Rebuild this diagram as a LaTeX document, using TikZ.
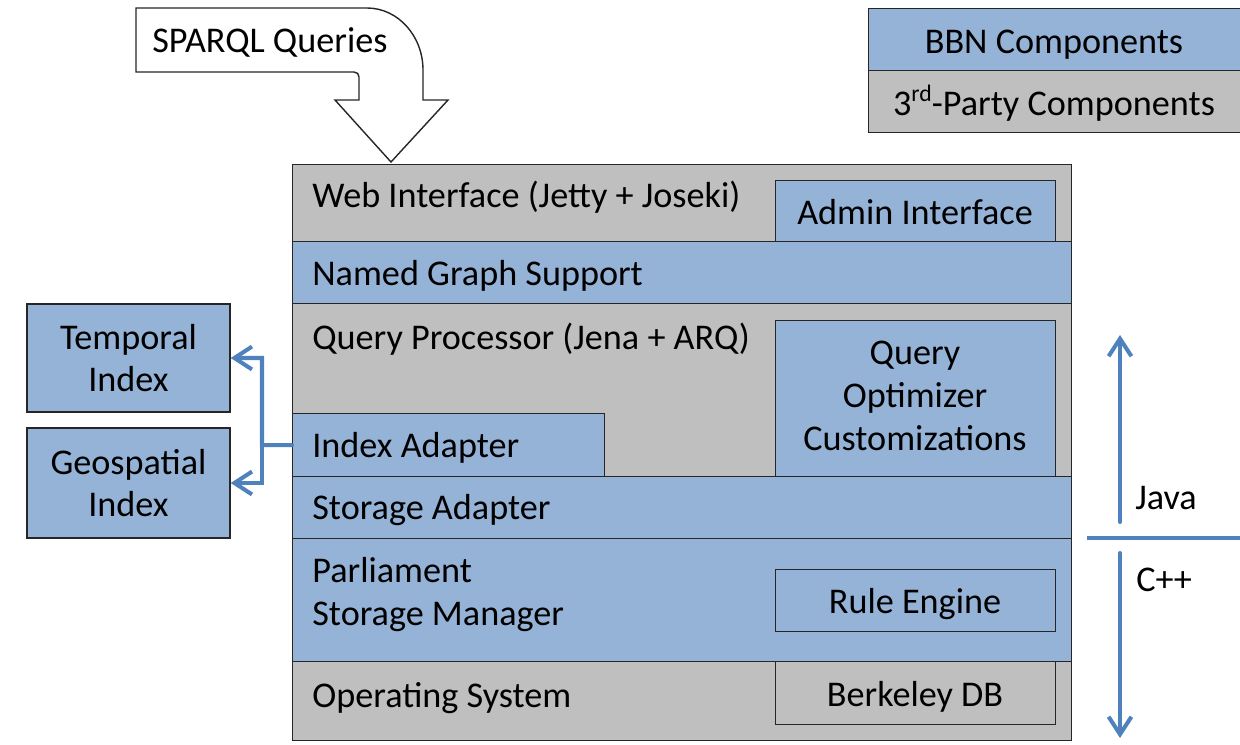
\documentclass[tikz,border=0pt]{standalone}
\usepackage{fontspec}
\setmainfont{Carlito}
\usetikzlibrary{arrows.meta}
\newlength\px \setlength\px{0.02cm}
\definecolor{bbnblue}{RGB}{149,179,215}
\definecolor{tpgray}{RGB}{191,191,191}
\definecolor{arblue}{RGB}{79,129,189}
\tikzset{bl/.style = {rectangle, fill=bbnblue, draw=black!85, line width=0.8pt, inner sep=0pt},
         gr/.style = {rectangle, fill=tpgray, draw=black!85, line width=0.8pt, inner sep=0pt},
         sz/.style 2 args = {minimum width=#1\px, minimum height=#2\px},
         tx/.style = {anchor=base west, inner sep=0pt},
         tc/.style = {anchor=base, inner sep=0pt, align=center},
         ar/.style = {draw=arblue, line width=2.3pt, line cap=round, -{Straight Barb[length=10pt, width=13pt]}}}

\begin{document}
\begin{tikzpicture}[x=1\px, y=-1\px, font=\fontsize{20.6}{24.4}\selectfont]
    \useasboundingbox (0,0) rectangle (1240,744);
    % legend
    \node[bl, sz={372}{62}, anchor=north west] (bbn) at (868,8) {};
    \node[gr, sz={372}{62}, anchor=north west] (third) at (868,70) {};
    \node[tc] (bbntx) at (1054,53) {BBN Components};
    \node[tc] (thirdtx) at (1054,115) {3\raisebox{0.38em}{\fontsize{13.5}{14}\selectfont rd}-Party Components};
    % query arrow
    \draw[fill=white, draw=black!85, line width=0.8pt] (136,8) -- (367,8) .. controls (398,8) and (423,36) .. (423,70)
        -- (423,100) -- (448,100) -- (391,162) -- (335,100) -- (359,100) -- (359,77) .. controls (359,74) and (357,72) .. (354,72) -- (136,72) -- cycle;
    \node[tx] (sparql) at (152,52) {SPARQL Queries};
    % layers
    \node[gr, sz={779}{77}, anchor=north west] (web) at (292,164) {};
    \node[bl, sz={779}{62}, anchor=north west] (ngs) at (292,241) {};
    \node[gr, sz={779}{173}, anchor=north west] (qp) at (292,303) {};
    \node[bl, sz={779}{62}, anchor=north west] (sa) at (292,476) {};
    \node[bl, sz={779}{123}, anchor=north west] (psm) at (292,538) {};
    \node[gr, sz={779}{79}, anchor=north west] (os) at (292,661) {};
    \node[bl, sz={280}{61}, anchor=north west] (admin) at (775,180) {};
    \node[bl, sz={280}{156}, anchor=north west] (qopt) at (775,320) {};
    \node[bl, sz={312}{63}, anchor=north west] (idx) at (292,413) {};
    \node[bl, sz={280}{62}, anchor=north west] (rule) at (775,569) {};
    \node[gr, sz={280}{63}, anchor=north west] (bdb) at (775,661) {};
    \node[tx] (webtx) at (312,207) {Web Interface (Jetty + Joseki)};
    \node[tx] (ngstx) at (312,285) {Named Graph Support};
    \node[tx] (qptx) at (312,349) {Query Processor (Jena + ARQ)};
    \node[tx] (idxtx) at (312,457) {Index Adapter};
    \node[tx] (satx) at (312,519) {Storage Adapter};
    \node[tx, align=left] (psmtx) at (312,625) {Parliament\\Storage Manager};
    \node[tx] (ostx) at (312,707) {Operating System};
    \node[tc] (admintx) at (915,224) {Admin Interface};
    \node[tc] (qopttx) at (915,450) {Query\\Optimizer\\Customizations};
    \node[tc] (ruletx) at (915,613) {Rule Engine};
    \node[tc] (bdbtx) at (915,706) {Berkeley DB};
    % indexes
    \node[bl, sz={203}{108}, align=center] (temp) at (128.5,358) {Temporal\\Index};
    \node[bl, sz={203}{110}, align=center] (geo) at (128.5,483) {Geospatial\\Index};
    \coordinate (split) at (262,445);
    \draw[ar] (idx.west) -- (split) |- (temp.east);
    \draw[ar] (split) |- (geo.east);
    % java / c++
    \coordinate (div0) at (1087,538); \coordinate (div1) at (1240,538);
    \coordinate (java0) at (1120,522); \coordinate (java1) at (1120,335);
    \coordinate (cpp0) at (1120,553); \coordinate (cpp1) at (1120,738);
    \draw[draw=arblue, line width=2.3pt] (div0) -- (div1);
    \draw[ar] (java0) -- (java1);
    \draw[ar] (cpp0) -- (cpp1);
    \node[tx] (java) at (1135,509) {Java};
    \node[tx] (cpp) at (1136,591) {C++};
\end{tikzpicture}
\end{document}
